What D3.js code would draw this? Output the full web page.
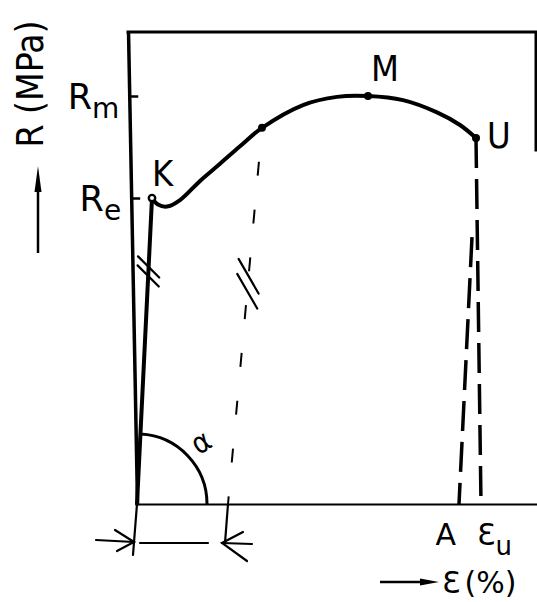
<!DOCTYPE html>
<html>
<head>
<meta charset="utf-8">
<script src="https://cdn.jsdelivr.net/npm/d3@7"></script>
<style>
  html, body { margin: 0; padding: 0; background: #fff; }
  svg { display: block; }
  text { fill: #000; font-family: "DejaVu Sans Condensed", "DejaVu Sans", sans-serif; }
  .wide { font-family: "DejaVu Sans", sans-serif; }
</style>
</head>
<body>
<svg id="chart" width="537" height="602"></svg>
<script>
// Schematic engineering stress–strain diagram.
// Units: strain 0–100 along the axis, stress with Rm = 100.
const strainDomain = [0, 100];
const stressTop = 115.7;          // upper edge of the frame
const frameRight = 99.75;         // strain at the right edge of the frame
const rightEdgeBottom = 86.8;     // stress where the right frame edge stops

const yTicks = [
  { base: "R", sub: "e", value: 75 },
  { base: "R", sub: "m", value: 100 }
];

const elasticLine = [[0, 0], [3.75, 75]];

const hardeningCurve = [
  [3.75, 75], [5.25, 73.4], [7.5, 72.9], [10.75, 74.5], [15.75, 79.2],
  [20.75, 83.4], [25.75, 87.7], [31.25, 92.2], [41.5, 97.8], [50, 99.8],
  [57.75, 100], [66.5, 99], [75, 96], [80.75, 92.9], [84.75, 89.7]
];

const curvePoints = [
  { name: "K", strain: 3.75, stress: 75, open: true },
  { name: "",  strain: 31.25, stress: 92.2, open: false },
  { name: "M", strain: 57.75, stress: 100, open: false },
  { name: "U", strain: 84.75, stress: 89.7, open: false }
];

const unloadLine = [[31.25, 92.2], [22.75, 0]];

const fractureLines = [
  { label: "A",  sub: "",  from: [83.75, 65.4], to: [80.5, 0], anchor: "end" },
  { label: "Ɛ",  sub: "u", from: [84.75, 89.7], to: [86, 0],   anchor: "start" }
];

const breakMarks = [
  { line: "elastic", stress: 57 },
  { line: "unload",  stress: 54 }
];

const angleRadiusStrain = 17.5;   // radius of the α arc, in strain units

// ---------- layout ----------
const svg = d3.select("#chart");
const margin = { top: 32, right: 0, bottom: 98, left: 137 };
const W = +svg.attr("width"), H = +svg.attr("height");

const x = d3.scaleLinear().domain(strainDomain).range([margin.left, W - margin.right]);
const y = d3.scaleLinear().domain([0, stressTop]).range([H - margin.bottom, margin.top]);

const leanDeg = 1.09;                       // the stress axis leans slightly to the left
const lean = v => Math.tan(leanDeg * Math.PI / 180) * (y(0) - y(v));

// ---------- axes and frame ----------
const yAxis = d3.axisLeft(y).tickValues(yTicks.map(d => d.value))
  .tickSizeInner(-9).tickSizeOuter(0).tickFormat("");
const gy = svg.append("g")
  .attr("transform", `translate(${x(0)},${y(0)}) skewX(${leanDeg}) translate(0,${-y(0)})`)
  .call(yAxis);
gy.select(".domain").attr("stroke", "#000").attr("stroke-width", 3.5);
gy.selectAll(".tick line").attr("stroke", "#000").attr("stroke-width", 2.5);

const xAxis = d3.axisBottom(x).tickValues([]).tickSizeOuter(0);
const gx = svg.append("g").attr("transform", `translate(0,${y(0)})`).call(xAxis);
gx.select(".domain").attr("stroke", "#000").attr("stroke-width", 2.2);

svg.append("path")
  .attr("d", d3.line()([
    [x(0) - lean(stressTop), y(stressTop)],
    [x(frameRight), y(stressTop)],
    [x(frameRight), y(rightEdgeBottom)]
  ]))
  .attr("fill", "none").attr("stroke", "#000").attr("stroke-width", 3)
  .attr("stroke-linecap", "square");

// stress tick labels with subscripts
yTicks.forEach(t => {
  const tx = svg.append("text").attr("class", "wide")
    .attr("x", x(0) - lean(t.value) - 10)
    .attr("y", y(t.value) + 13)
    .attr("text-anchor", "end")
    .style("font-size", "35px");
  tx.append("tspan").text(t.base);
  tx.append("tspan").attr("dy", 9).style("font-size", "28px").text(t.sub);
});

// ---------- curves ----------
const line = d3.line().x(d => x(d[0])).y(d => y(d[1]));

svg.append("path").attr("d", line(elasticLine))
  .attr("fill", "none").attr("stroke", "#000").attr("stroke-width", 4)
  .attr("stroke-linecap", "round");

svg.append("path").attr("d", line.curve(d3.curveCatmullRom.alpha(0.5))(hardeningCurve))
  .attr("fill", "none").attr("stroke", "#000").attr("stroke-width", 4)
  .attr("stroke-linecap", "round").attr("stroke-linejoin", "round");
line.curve(d3.curveLinear);

// unloading line, roughly parallel to the elastic slope
svg.append("path").attr("d", line(unloadLine))
  .attr("fill", "none").attr("stroke", "#000").attr("stroke-width", 2)
  .attr("stroke-dasharray", "14 34").attr("stroke-dashoffset", 14);

// elongation at fracture and uniform elongation
fractureLines.forEach(f => {
  svg.append("path").attr("d", line([f.from, f.to]))
    .attr("fill", "none").attr("stroke", "#000").attr("stroke-width", 3.5)
    .attr("stroke-dasharray", "30 11");
  const t = svg.append("text").attr("class", "wide")
    .attr("x", x(f.to[0]) + (f.anchor === "end" ? -3 : -4))
    .attr("y", y(0) + 41)
    .attr("text-anchor", f.anchor)
    .style("font-size", "30px");
  t.append("tspan").text(f.label);
  if (f.sub) t.append("tspan").attr("dy", 10).style("font-size", "26px").text(f.sub);
});

// break marks on the elastic and unloading lines (strokes run down to the right)
const lines = { elastic: elasticLine, unload: unloadLine };
const breakStyle = {
  elastic: { angle: 45, len: 30, gap: 9 },
  unload:  { angle: 60, len: 40, gap: 15 }
};
breakMarks.forEach(b => {
  const [p0, p1] = lines[b.line];
  const t = (b.stress - p0[1]) / (p1[1] - p0[1]);
  const cx = x(p0[0] + t * (p1[0] - p0[0])), cy = y(b.stress);
  const dx = x(p1[0]) - x(p0[0]), dy = y(p1[1]) - y(p0[1]);
  const dl = Math.hypot(dx, dy), ux = dx / dl, uy = dy / dl;
  const s = breakStyle[b.line], a = s.angle * Math.PI / 180;
  const vx = Math.cos(a) * s.len / 2, vy = Math.sin(a) * s.len / 2;
  [-0.5, 0.5].forEach(k => {
    const mx = cx + ux * s.gap * k, my = cy + uy * s.gap * k;
    svg.append("line")
      .attr("x1", mx - vx).attr("y1", my - vy).attr("x2", mx + vx).attr("y2", my + vy)
      .attr("stroke", "#000").attr("stroke-width", 2.2).attr("stroke-linecap", "round");
  });
});

// ---------- characteristic points ----------
const labelOffset = { K: [0, -12, "start"], M: [17, -15, "middle"], U: [11, 10, "start"] };
curvePoints.forEach(p => {
  svg.append("circle").attr("cx", x(p.strain)).attr("cy", y(p.stress))
    .attr("r", p.open ? 3.2 : 4)
    .attr("fill", p.open ? "#fff" : "#000")
    .attr("stroke", "#000").attr("stroke-width", p.open ? 2.4 : 0);
  if (p.name) {
    const o = labelOffset[p.name];
    svg.append("text").attr("x", x(p.strain) + o[0]).attr("y", y(p.stress) + o[1])
      .attr("text-anchor", o[2]).style("font-size", "36px").text(p.name);
  }
});

// ---------- angle α of the elastic line ----------
const r = x(angleRadiusStrain) - x(0);
const elasticAngle = Math.atan2(y(elasticLine[1][1]) - y(0), x(elasticLine[1][0]) - x(0));
const arcPath = d3.path();
arcPath.arc(x(0), y(0), r, elasticAngle, 0);
svg.append("path").attr("d", arcPath.toString())
  .attr("fill", "none").attr("stroke", "#000").attr("stroke-width", 3);
svg.append("text")
  .attr("transform", `translate(${x(0) + r * 0.99},${y(0) - r * 0.76}) rotate(-32)`)
  .attr("text-anchor", "middle").style("font-size", "30px").text("α");

// ---------- plastic strain dimension ----------
const dimY = y(0) + 39;
const plastic = unloadLine[1][0];
const dim = svg.append("g").attr("stroke", "#000").attr("fill", "none")
  .attr("stroke-width", 2.2).attr("stroke-linecap", "round");
dim.append("line").attr("x1", x(0)).attr("y1", y(0)).attr("x2", x(0) - 4).attr("y2", y(0) + 51);
dim.append("line").attr("x1", x(plastic)).attr("y1", y(0)).attr("x2", x(plastic) - 3).attr("y2", dimY);
dim.append("line").attr("x1", x(0) + 3).attr("y1", dimY).attr("x2", x(plastic) - 20).attr("y2", dimY);
// arrow coming from the left
const lt = [x(0) - 3, dimY - 1];
dim.append("path").attr("d", d3.line()([[lt[0] - 38, lt[1] - 2], lt]));
dim.append("path").attr("d", d3.line()([[lt[0] - 19, lt[1] - 12], lt, [lt[0] - 17, lt[1] + 9]]));
// arrow coming from the right
const rt = [x(plastic) - 6, dimY];
dim.append("path").attr("d", d3.line()([[rt[0] + 30, rt[1] + 1], rt]));
dim.append("path").attr("d", d3.line()([[rt[0] + 21, rt[1] - 11], rt, [rt[0] + 25, rt[1] + 18]]));

// ---------- axis titles ----------
svg.append("text")
  .attr("transform", `translate(43,84) rotate(-90)`)
  .attr("text-anchor", "middle").style("font-size", "37px").text("R (MPa)");
svg.append("line").attr("x1", 38).attr("y1", 253).attr("x2", 38).attr("y2", 185)
  .attr("stroke", "#000").attr("stroke-width", 2.5);
svg.append("path").attr("d", d3.line()([[38, 166], [34.5, 192], [41.5, 192]]) + "Z").attr("fill", "#000");

svg.append("line").attr("x1", 380).attr("y1", 582).attr("x2", 425).attr("y2", 582)
  .attr("stroke", "#000").attr("stroke-width", 2.5);
svg.append("path").attr("d", d3.line()([[439, 582], [420, 578.5], [420, 585.5]]) + "Z").attr("fill", "#000");
const et = svg.append("text").attr("class", "wide").attr("x", 442).attr("y", 593)
  .style("font-size", "30px");
et.append("tspan").text("Ɛ");
et.append("tspan").attr("dx", 4).text("(%)");
</script>
</body>
</html>
